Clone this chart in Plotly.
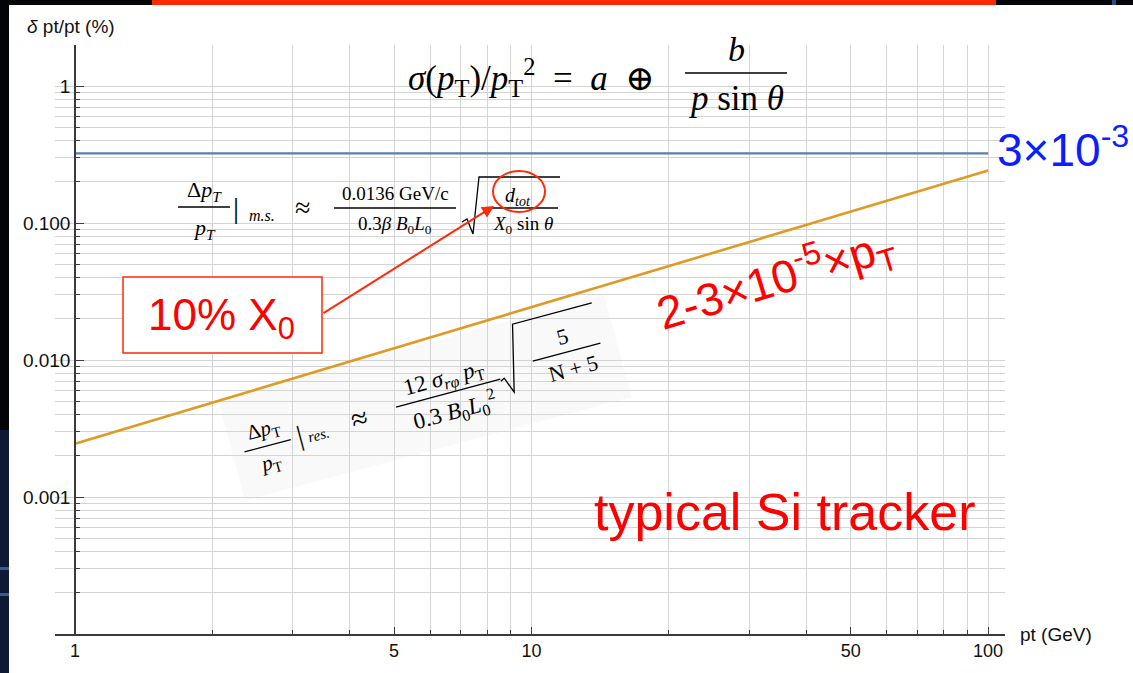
import math
import plotly.graph_objects as go

# ---------------- data ----------------
pt = [1, 100]
ms_limit = [0.324, 0.324]          # blue: multiple-scattering limit
res_term = [0.00245, 0.2425]       # orange: resolution term ~ pT

x_major = [1, 5, 10, 50, 100]
x_major_text = ["1", "5", "10", "50", "100"]
x_minor = [2, 3, 4, 6, 7, 8, 9, 20, 30, 40, 60, 70, 80, 90]
y_major = [1, 0.1, 0.01, 0.001]
y_major_text = ["1", "0.100", "0.010", "0.001"]
y_minor = [k * 10.0 ** e for e in range(-4, 1) for k in range(2, 10)]

# ---------------- layout geometry ----------------
W, H = 1133, 673
L, R, T, B = 55, 128, 45, 39
PW, PH = W - L - R, H - T - B


def px(x):
    return (x - L) / PW


def py(y):
    return (H - B - y) / PH


GRID = "#d4d4d4"
AX = "#3a3a3a"
RED = "#ff0000"
RED2 = "#ff2a0a"
SERIF = "Liberation Serif, DejaVu Serif, serif"
SANS = "Liberation Sans, Arial, sans-serif"

fig = go.Figure()
fig.add_trace(go.Scatter(x=pt, y=ms_limit, mode="lines",
                         line=dict(color="#5b7db3", width=2.2), showlegend=False,
                         hoverinfo="skip"))
fig.add_trace(go.Scatter(x=pt, y=res_term, mode="lines",
                         line=dict(color="#e09a24", width=2.6), showlegend=False,
                         hoverinfo="skip"))

annotations = []
shapes = []


def text(x, y, s, size, color="black", family=SERIF, angle=0, xanchor="center"):
    annotations.append(dict(x=px(x), y=py(y), xref="paper", yref="paper", text=s,
                            showarrow=False, xanchor=xanchor, yanchor="middle",
                            textangle=angle,
                            font=dict(size=size, color=color, family=family)))


def line(p1, p2, color="black", width=1.3, layer="above"):
    shapes.append(dict(type="line", xref="paper", yref="paper",
                       x0=px(p1[0]), y0=py(p1[1]), x1=px(p2[0]), y1=py(p2[1]),
                       line=dict(color=color, width=width), layer=layer))


def path(points, color="black", width=1.3, fill=None, layer="above", close=False):
    d = "M " + " L ".join(f"{px(a):.5f},{py(b):.5f}" for a, b in points)
    if close:
        d += " Z"
    s = dict(type="path", xref="paper", yref="paper", path=d, layer=layer,
             line=dict(color=color, width=width))
    if fill:
        s["fillcolor"] = fill
    if width == 0:
        s["line"] = dict(width=0)
    shapes.append(s)


def rect(x0, y0, x1, y1, fill="white", color=None, width=0, layer="between"):
    s = dict(type="rect", xref="paper", yref="paper", x0=px(x0), x1=px(x1),
             y0=py(y1), y1=py(y0), fillcolor=fill, layer=layer)
    s["line"] = dict(color=color, width=width) if color else dict(width=0)
    shapes.append(s)


# ---------------- screenshot frame pieces ----------------
rect(0, 0, W, 5, fill="#05060a", layer="above")
rect(152, 0, 996, 5, fill="#ff2a00", layer="above")
rect(0, 0, 9, 430, fill="#030408", layer="above")
rect(0, 430, 9, H, fill="#0e1a33", layer="above")
rect(0, 567, 9, 570, fill="#3a5a99", layer="above")
rect(0, 593, 9, 596, fill="#3a5a99", layer="above")
rect(1112, 0, 1116, 5, fill="#2c4a88", layer="above")

# ---------------- top formula ----------------
rect(377, 38, 793, 135)
text(531, 78, "<i>σ</i>(<i>p</i><sub>T</sub>)/<i>p</i><sub>T</sub><sup>2</sup>&nbsp;&nbsp;=&nbsp;&nbsp;<i>a</i>&nbsp;&nbsp;⊕", 35)
text(736, 50, "<i>b</i>", 34)
line((685, 73), (787, 73), width=1.6)
text(736, 99, "<i>p</i> sin <i>θ</i>", 35)

# ---------------- multiple scattering formula ----------------
rect(163, 171, 565, 250)
text(204, 191, "Δ<i>p</i><sub><i>T</i></sub>", 22)
line((178, 207), (230, 207))
text(204, 229, "<i>p</i><sub><i>T</i></sub>", 22)
text(236, 207, "|", 30)
text(262, 216, "<i>m.s.</i>", 16)
text(302, 207, "≈", 28)
text(395, 193, "0.0136 GeV/c", 19)
line((334, 208), (456, 208))
text(395, 225, "0.3<i>β B</i><sub>0</sub><i>L</i><sub>0</sub>", 19)
path([(462, 222), (467, 219), (473, 234), (479, 177), (560, 177)], width=1.3)
text(518, 196, "<i>d<sub>tot</sub></i>", 20)
line((488, 208), (558, 208))
text(523, 225, "<i>X</i><sub>0</sub> sin <i>θ</i>", 19)

# red circle around d_tot
shapes.append(dict(type="circle", xref="paper", yref="paper",
                   x0=px(493), x1=px(545), y0=py(212), y1=py(171),
                   line=dict(color=RED2, width=2), layer="above"))

# ---------------- 10% X0 box + arrow ----------------
rect(123, 277, 322, 353, fill="white", color=RED2, width=1.5, layer="above")
text(221, 318, "10% X<sub>0</sub>", 44, color=RED, family=SANS)
annotations.append(dict(x=px(494), y=py(206), xref="paper", yref="paper",
                        ax=322 - 494, ay=314 - 206, axref="pixel", ayref="pixel",
                        text="", showarrow=True, arrowhead=2, arrowsize=1.2,
                        arrowwidth=2, arrowcolor=RED2, standoff=0))

# ---------------- rotated resolution formula ----------------
CX, CY, ANG = 424.5, 397.5, 15.0
ca, sa = math.cos(math.radians(ANG)), math.sin(math.radians(ANG))


def rot(u, v):
    return (CX + u * ca + v * sa, CY - u * sa + v * ca)


path([rot(-200, -52), rot(200, -52), rot(200, 53), rot(-200, 53)],
     width=0, fill="rgba(249,249,249,1)", layer="between", close=True)


def rtext(u, v, s, size):
    x, y = rot(u, v)
    text(x, y, s, size, angle=-ANG)


def rline(u0, v0, u1, v1, width=1.3):
    line(rot(u0, v0), rot(u1, v1), width=width)


rtext(-164, -10, "Δ<i>p</i><sub>T</sub>", 21)
rline(-188, 6, -140, 6)
rtext(-165, 24, "<i>p</i><sub>T</sub>", 21)
rtext(-130, 5, "|", 28)
rtext(-112, 9, "<i>res.</i>", 15)
rtext(-69, 3, "≈", 30)
rtext(24, -12, "12 <i>σ</i><sub><i>rφ</i></sub> <i>p</i><sub>T</sub>", 23)
rline(-30, 2, 78, 2)
rtext(26, 20, "0.3 <i>B</i><sub>0</sub><i>L</i><sub>0</sub><sup>2</sup>", 23)
path([rot(78, 4), rot(82, 2), rot(88, 18), rot(104, -48), rot(186, -48)], width=1.3)
rtext(149, -23, "5", 22)
rline(114, -7, 184, -7)
rtext(151, 10, "N + 5", 22)

# ---------------- red / blue labels ----------------
text(775, 279, "2-3×10<sup>-5</sup>×p<sub>T</sub>", 46, color=RED, family=SANS, angle=-17)
text(995, 147, "3×10<sup>-3</sup>", 46, color="#0a1eff", family=SANS, xanchor="left")
text(784, 512, "typical Si tracker", 52, color=RED, family=SANS)

# axis titles
text(25, 27, "<i>δ</i> pt/pt (%)", 19, color="#111", family=SANS, xanchor="left")
text(1018, 634, "pt (GeV)", 19, color="#111", family=SANS, xanchor="left")

fig.update_layout(
    width=W, height=H,
    margin=dict(l=L, r=R, t=T, b=B),
    paper_bgcolor="white", plot_bgcolor="white",
    showlegend=False,
    annotations=annotations, shapes=shapes,
    xaxis=dict(type="log", range=[-0.0438, 2.037],
               tickmode="array", tickvals=x_major, ticktext=x_major_text,
               showgrid=True, gridcolor=GRID, gridwidth=1,
               showline=True, linecolor=AX, linewidth=1.5,
               ticks="inside", ticklen=7, tickcolor=AX, tickwidth=1,
               tickfont=dict(size=18, color="#111", family=SANS),
               zeroline=False,
               minor=dict(tickmode="array", tickvals=x_minor, showgrid=True,
                          gridcolor=GRID, gridwidth=1, ticks="inside",
                          ticklen=4, tickcolor=AX)),
    yaxis=dict(type="log", range=[-4.0, 0.3015],
               anchor="free", position=20 / PW,
               tickmode="array", tickvals=y_major, ticktext=y_major_text,
               showgrid=True, gridcolor=GRID, gridwidth=1,
               showline=True, linecolor=AX, linewidth=1.5,
               ticks="inside", ticklen=8, tickcolor=AX, tickwidth=1,
               tickfont=dict(size=19, color="#111", family=SANS),
               zeroline=False,
               minor=dict(tickmode="array", tickvals=y_minor, showgrid=True,
                          gridcolor=GRID, gridwidth=1, ticks="inside",
                          ticklen=4, tickcolor=AX)),
)

fig.write_html("out.html", config={"displayModeBar": False},
               post_script="document.body.style.margin='0px';")
